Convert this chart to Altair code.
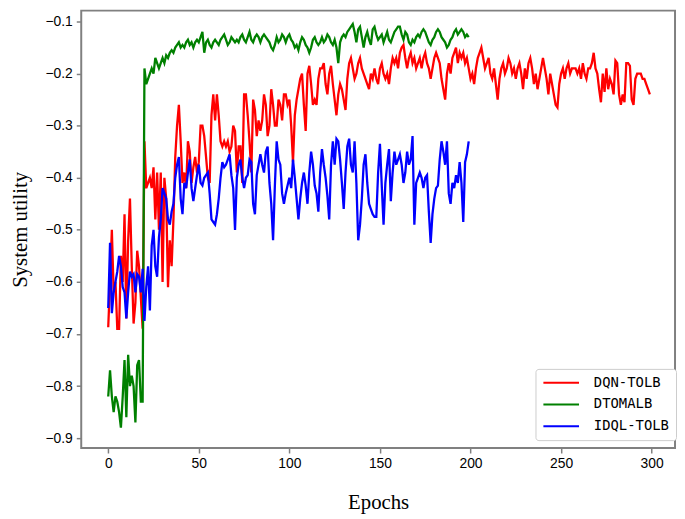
import altair as alt
import pandas as pd

methods = ["DQN-TOLB", "DTOMALB", "IDQL-TOLB"]
colors = ["#ff0000", "#008000", "#0000ff"]
x_ticks = [0, 50, 100, 150, 200, 250, 300]
y_ticks = [-0.9, -0.8, -0.7, -0.6, -0.5, -0.4, -0.3, -0.2, -0.1]

dqn_tolb = [
    -0.687, -0.60, -0.50, -0.62, -0.60, -0.69, -0.69, -0.55, -0.60, -0.47,
    -0.67, -0.52, -0.44, -0.57, -0.68, -0.64, -0.54, -0.57, -0.63, -0.69,
    -0.33, -0.42, -0.41, -0.40, -0.42, -0.38, -0.48, -0.39, -0.50, -0.39,
    -0.60, -0.40, -0.44, -0.61, -0.52, -0.57, -0.48, -0.36, -0.30, -0.26,
    -0.33, -0.41, -0.39, -0.42, -0.33, -0.35, -0.41, -0.38, -0.36, -0.39,
    -0.37, -0.30, -0.30, -0.32, -0.36, -0.40, -0.41, -0.28, -0.24, -0.29,
    -0.24, -0.28, -0.33, -0.34, -0.33, -0.34, -0.33, -0.35, -0.34, -0.30,
    -0.31, -0.39, -0.34, -0.34, -0.41, -0.24, -0.24, -0.28, -0.33, -0.39,
    -0.25, -0.27, -0.32, -0.29, -0.31, -0.29, -0.24, -0.26, -0.32, -0.30,
    -0.23, -0.26, -0.30, -0.30, -0.25, -0.26, -0.29, -0.24, -0.24, -0.26,
    -0.25, -0.30, -0.37, -0.28, -0.25, -0.23, -0.21, -0.20, -0.26, -0.31,
    -0.20, -0.185, -0.22, -0.26, -0.25, -0.26, -0.21, -0.19, -0.19, -0.18,
    -0.22, -0.24, -0.20, -0.185, -0.22, -0.25, -0.28, -0.24, -0.22, -0.23,
    -0.25, -0.27, -0.21, -0.18, -0.17, -0.19, -0.21, -0.20, -0.18, -0.17,
    -0.19, -0.20, -0.21, -0.22, -0.23, -0.20, -0.21, -0.19, -0.21, -0.22,
    -0.19, -0.18, -0.20, -0.21, -0.20, -0.22, -0.19, -0.17, -0.18, -0.17,
    -0.19, -0.16, -0.15, -0.145, -0.17, -0.19, -0.17, -0.16, -0.18, -0.17,
    -0.19, -0.18, -0.17, -0.19, -0.17, -0.16, -0.18, -0.19, -0.21, -0.19,
    -0.17, -0.16, -0.17, -0.18, -0.21, -0.23, -0.25, -0.20, -0.18, -0.20,
    -0.17, -0.16, -0.15, -0.18, -0.16, -0.17, -0.16, -0.18, -0.17, -0.19,
    -0.21, -0.20, -0.22, -0.19, -0.17, -0.16, -0.15, -0.17, -0.19, -0.18,
    -0.17, -0.20, -0.21, -0.19, -0.22, -0.25, -0.21, -0.19, -0.18, -0.20,
    -0.19, -0.17, -0.18, -0.20, -0.19, -0.21, -0.19, -0.18, -0.20, -0.23,
    -0.19, -0.21, -0.18, -0.17, -0.19, -0.22, -0.20, -0.23, -0.21, -0.19,
    -0.17, -0.19, -0.21, -0.24, -0.20, -0.22, -0.24, -0.26, -0.265, -0.22,
    -0.20, -0.19, -0.21, -0.19, -0.18, -0.20, -0.19, -0.19, -0.19, -0.20,
    -0.19, -0.21, -0.18, -0.20, -0.21, -0.19, -0.19, -0.18, -0.16, -0.19,
    -0.20, -0.23, -0.255, -0.20, -0.235, -0.19, -0.23, -0.21, -0.22, -0.24,
    -0.175, -0.18, -0.24, -0.26, -0.24, -0.255, -0.18, -0.18, -0.185, -0.25,
    -0.26, -0.21, -0.20, -0.20, -0.20, -0.21, -0.21, -0.22, -0.23, -0.24,
]

dtomalb = [
    -0.82, -0.77, -0.82, -0.85, -0.82, -0.83, -0.85, -0.88, -0.82, -0.75,
    -0.86, -0.74, -0.80, -0.78, -0.80, -0.87, -0.76, -0.75, -0.83, -0.83,
    -0.19, -0.22, -0.21, -0.20, -0.19, -0.20, -0.17, -0.18, -0.19, -0.18,
    -0.17, -0.18, -0.165, -0.17, -0.16, -0.155, -0.16, -0.15, -0.145, -0.14,
    -0.15, -0.145, -0.15, -0.14, -0.135, -0.145, -0.14, -0.15, -0.14, -0.135,
    -0.14, -0.13, -0.12, -0.16, -0.14, -0.135, -0.145, -0.15, -0.14, -0.135,
    -0.14, -0.145, -0.135, -0.13, -0.125, -0.135, -0.145, -0.14, -0.13, -0.135,
    -0.14, -0.135, -0.14, -0.13, -0.125, -0.135, -0.14, -0.13, -0.12, -0.135,
    -0.14, -0.13, -0.125, -0.13, -0.14, -0.13, -0.125, -0.13, -0.135, -0.14,
    -0.15, -0.155, -0.145, -0.13, -0.14, -0.135, -0.125, -0.13, -0.14, -0.13,
    -0.125, -0.135, -0.14, -0.15, -0.145, -0.155, -0.14, -0.13, -0.135, -0.145,
    -0.15, -0.16, -0.15, -0.135, -0.13, -0.14, -0.145, -0.14, -0.13, -0.14,
    -0.135, -0.125, -0.13, -0.14, -0.145, -0.135, -0.15, -0.18, -0.14, -0.13,
    -0.125, -0.13, -0.12, -0.115, -0.11, -0.105, -0.12, -0.14, -0.115, -0.11,
    -0.13, -0.15, -0.13, -0.12, -0.135, -0.145, -0.115, -0.11, -0.125, -0.135,
    -0.13, -0.125, -0.14, -0.13, -0.12, -0.135, -0.14, -0.13, -0.12, -0.115,
    -0.11, -0.11, -0.125, -0.135, -0.12, -0.125, -0.14, -0.145, -0.135, -0.14,
    -0.13, -0.125, -0.13, -0.12, -0.115, -0.12, -0.13, -0.14, -0.145, -0.135,
    -0.13, -0.12, -0.115, -0.12, -0.13, -0.135, -0.14, -0.15, -0.145, -0.135,
    -0.13, -0.12, -0.115, -0.125, -0.12, -0.115, -0.12, -0.13, -0.125, -0.13,
]

idql_tolb = [
    -0.65, -0.525, -0.66, -0.62, -0.60, -0.58, -0.55, -0.57, -0.61, -0.62,
    -0.67, -0.62, -0.58, -0.59, -0.585, -0.62, -0.585, -0.59, -0.62, -0.575,
    -0.675, -0.61, -0.57, -0.655, -0.53, -0.50, -0.57, -0.59, -0.515, -0.48,
    -0.42, -0.43, -0.44, -0.48, -0.49, -0.465, -0.45, -0.40, -0.375, -0.36,
    -0.44, -0.47, -0.41, -0.42, -0.39, -0.365, -0.42, -0.445, -0.42, -0.395,
    -0.375, -0.41, -0.415, -0.40, -0.395, -0.39, -0.43, -0.48, -0.485, -0.49,
    -0.47, -0.44, -0.40, -0.37, -0.38, -0.375, -0.365, -0.355, -0.395, -0.42,
    -0.50, -0.40, -0.375, -0.365, -0.40, -0.42, -0.40, -0.395, -0.365, -0.37,
    -0.45, -0.47, -0.395, -0.375, -0.355, -0.375, -0.39, -0.35, -0.34, -0.41,
    -0.45, -0.52, -0.415, -0.33, -0.365, -0.375, -0.43, -0.45, -0.43, -0.415,
    -0.40, -0.42, -0.365, -0.40, -0.44, -0.48, -0.44, -0.41, -0.39, -0.415,
    -0.45, -0.39, -0.35, -0.375, -0.415, -0.43, -0.465, -0.39, -0.345, -0.375,
    -0.40, -0.435, -0.48, -0.375, -0.33, -0.375, -0.325, -0.33, -0.365, -0.41,
    -0.46, -0.39, -0.34, -0.325, -0.375, -0.39, -0.33, -0.41, -0.52, -0.49,
    -0.44, -0.375, -0.355, -0.41, -0.45, -0.46, -0.47, -0.475, -0.475, -0.39,
    -0.335, -0.415, -0.49, -0.41, -0.375, -0.345, -0.445, -0.39, -0.35, -0.375,
    -0.365, -0.355, -0.375, -0.41, -0.39, -0.35, -0.375, -0.365, -0.32, -0.49,
    -0.41, -0.40, -0.39, -0.40, -0.42, -0.40, -0.395, -0.465, -0.525, -0.47,
    -0.44, -0.42, -0.415, -0.365, -0.33, -0.35, -0.375, -0.33, -0.43, -0.45,
    -0.41, -0.42, -0.395, -0.41, -0.37, -0.41, -0.485, -0.37, -0.355, -0.33,
]

series = [dqn_tolb, dtomalb, idql_tolb]
rows = []
for name, vals in zip(methods, series):
    for i, v in enumerate(vals):
        rows.append({"epoch": i, "utility": v, "method": name})
df = pd.DataFrame(rows)

chart = (
    alt.Chart(df)
    .mark_line(strokeWidth=2.3)
    .encode(
        x=alt.X(
            "epoch:Q",
            scale=alt.Scale(domain=[-14.9, 312.9], nice=False, zero=False),
            axis=alt.Axis(
                values=x_ticks,
                format="d",
                title="Epochs",
                grid=False,
                domain=False,
                tickColor="#808080",
                tickSize=5,
                tickWidth=1.5,
                labelFont="Liberation Sans",
                labelFontSize=14,
                labelColor="black",
                labelPadding=4,
                titleFont="Liberation Serif",
                titleFontSize=21,
                titleFontWeight="normal",
                titleColor="black",
                titlePadding=21,
            ),
        ),
        y=alt.Y(
            "utility:Q",
            scale=alt.Scale(domain=[-0.919, -0.0791], nice=False, zero=False),
            axis=alt.Axis(
                values=y_ticks,
                format=".1f",
                title="System utility",
                grid=False,
                domain=False,
                tickColor="#808080",
                tickSize=5,
                tickWidth=1.5,
                labelFont="Liberation Sans",
                labelFontSize=14,
                labelColor="black",
                labelPadding=4,
                titleFont="Liberation Serif",
                titleFontSize=21,
                titleFontWeight="normal",
                titleColor="black",
                titlePadding=15,
            ),
        ),
        color=alt.Color(
            "method:N",
            scale=alt.Scale(domain=methods, range=colors),
            legend=alt.Legend(
                title=None,
                orient="none",
                legendX=459,
                legendY=362,
                symbolType="M-1,0H5",
                symbolSize=144,
                symbolStrokeWidth=2,
                labelOffset=38,
                labelFont="DejaVu Sans Mono",
                labelFontSize=14,
                labelColor="black",
                rowPadding=8,
                padding=7,
                strokeColor="#cccccc",
                fillColor="white",
                cornerRadius=3,
            ),
        ),
    )
    .properties(
        width=600,
        height=442,
        autosize=alt.AutoSizeParams(type="none"),
        padding={"left": 74, "top": 0, "right": 2, "bottom": 66},
    )
    .configure_view(stroke="#808080", strokeWidth=2)
)

chart.save("out.html", embed_options={"renderer": "svg", "actions": False})
